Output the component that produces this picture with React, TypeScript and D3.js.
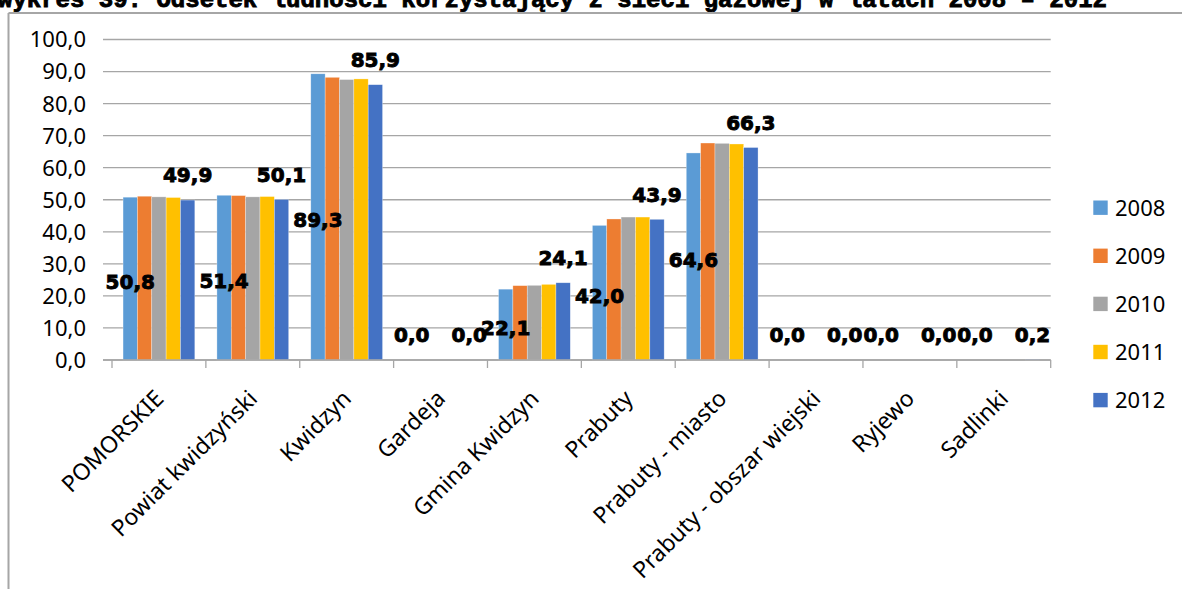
import React from "react";
import * as d3 from "d3";

const title = "wykres 39. Odsetek ludności korzystający z sieci gazowej w latach 2008 – 2012";
const categories = [
  "POMORSKIE",
  "Powiat kwidzyński",
  "Kwidzyn",
  "Gardeja",
  "Gmina Kwidzyn",
  "Prabuty",
  "Prabuty - miasto",
  "Prabuty - obszar wiejski",
  "Ryjewo",
  "Sadlinki",
];
const years = ["2008", "2009", "2010", "2011", "2012"];
const v2008 = [50.8, 51.4, 89.3, 0.0, 22.1, 42.0, 64.6, 0.0, 0.0, 0.0];
const v2009 = [51.1, 51.3, 88.2, 0.0, 23.2, 44.0, 67.7, 0.0, 0.0, 0.0];
const v2010 = [50.9, 50.9, 87.5, 0.0, 23.3, 44.6, 67.6, 0.0, 0.0, 0.0];
const v2011 = [50.7, 51.0, 87.7, 0.0, 23.6, 44.6, 67.4, 0.0, 0.0, 0.0];
const v2012 = [49.9, 50.1, 85.9, 0.0, 24.1, 43.9, 66.3, 0.0, 0.0, 0.2];
const yTicks = [0, 10, 20, 30, 40, 50, 60, 70, 80, 90, 100];
const colors = ["#5B9BD5", "#ED7D31", "#A5A5A5", "#FFC000", "#4472C4"];
const labelledYears = ["2008", "2012"];

const series = [v2008, v2009, v2010, v2011, v2012];

const W = 1182;
const H = 589;
const left = 112;
const right = 1050.7;
const top = 39.5;
const bottom = 360;

const fmt = (v: number) => d3.format(".1f")(v).replace(".", ",");

export default function App() {
  const x = d3.scaleBand<string>().domain(categories).range([left, right]).paddingInner(0).paddingOuter(0);
  const xi = d3.scaleBand<string>().domain(years).range([0, x.bandwidth()]).paddingInner(0).paddingOuter(0.77);
  const y = d3.scaleLinear().domain([0, 100]).range([bottom, top]);
  const boundaries = categories.map((c) => x(c) as number).concat([right]);
  const labelFont = "'DejaVu Sans', sans-serif";
  const axisFont = "'Noto Sans', sans-serif";

  return (
    <svg
      width={W}
      height={H}
      style={{ position: "fixed", left: 0, top: 0, background: "#fff" }}
    >
      <rect x={0} y={0} width={W} height={H} fill="#fff" />
      <text
        x={-2}
        y={6.5}
        fontFamily="'Liberation Mono', monospace"
        fontWeight="bold"
        fontSize={24}
        fill="#000"
        stroke="#000"
        strokeWidth={0.9}
      >
        {title}
      </text>
      {/* frame */}
      <line x1={8.5} x2={8.5} y1={13} y2={H} stroke="#A6A6A6" strokeWidth={2} />
      <line x1={8.5} x2={W} y1={13} y2={13} stroke="#A6A6A6" strokeWidth={2} />

      {/* grid */}
      {yTicks.map((t) => (
        <g key={t}>
          <line x1={103} x2={right} y1={y(t)} y2={y(t)} stroke="#A6A6A6" strokeWidth={1.3} />
          <text
            x={86}
            y={y(t)}
            dy="0.36em"
            textAnchor="end"
            fontFamily={axisFont}
            fontSize={22}
            fill="#000"
          >
            {fmt(t)}
          </text>
        </g>
      ))}

      {/* bars */}
      {series.map((vals, si) => (
        <g key={years[si]}>
          {vals.map((v, ci) => {
            const bx = (x(categories[ci]) as number) + (xi(years[si]) as number);
            return (
              <rect
                key={ci}
                x={bx}
                y={y(v)}
                width={xi.bandwidth()}
                height={bottom - y(v)}
                fill={colors[si]}
                stroke="#fff"
                strokeOpacity={0.5}
                strokeWidth={0.6}
              />
            );
          })}
        </g>
      ))}

      {/* x axis */}
      <line x1={103} x2={right} y1={bottom} y2={bottom} stroke="#A6A6A6" strokeWidth={1.3} />
      {boundaries.map((b, i) => (
        <line key={i} x1={b} x2={b} y1={bottom} y2={bottom + 8} stroke="#A6A6A6" strokeWidth={1.3} />
      ))}
      {categories.map((c) => {
        const cx = (x(c) as number) + x.bandwidth() / 2;
        return (
          <text
            key={c}
            transform={`translate(${cx + 6},${bottom + 40}) rotate(-45)`}
            textAnchor="end"
            fontFamily={axisFont}
            fontSize={23}
            fill="#000"
          >
            {c}
          </text>
        );
      })}

      {/* data labels */}
      {labelledYears.map((yr) => {
        const si = years.indexOf(yr);
        return (
          <g key={yr}>
            {series[si].map((v, ci) => {
              const cx = (x(categories[ci]) as number) + (xi(yr) as number) + xi.bandwidth() / 2;
              const cy = si === 0 ? Math.min((y(v) + bottom) / 2 + 3, bottom - 25) : y(v) - 25;
              return (
                <text
                  key={ci}
                  x={cx}
                  y={cy}
                  dy="0.36em"
                  textAnchor="middle"
                  fontFamily={labelFont}
                  fontWeight="bold"
                  fontSize={20}
                  fill="#000"
                  stroke="#000"
                  strokeWidth={0.9}
                >
                  {fmt(v)}
                </text>
              );
            })}
          </g>
        );
      })}

      {/* legend */}
      {years.map((yr, i) => {
        const ly = 207.7 + i * 48.1;
        return (
          <g key={yr}>
            <rect x={1093.3} y={ly - 7.2} width={14.4} height={14.4} fill={colors[i]} />
            <text
              x={1115}
              y={ly}
              dy="0.36em"
              fontFamily={axisFont}
              fontSize={22}
              fill="#000"
            >
              {yr}
            </text>
          </g>
        );
      })}
    </svg>
  );
}
